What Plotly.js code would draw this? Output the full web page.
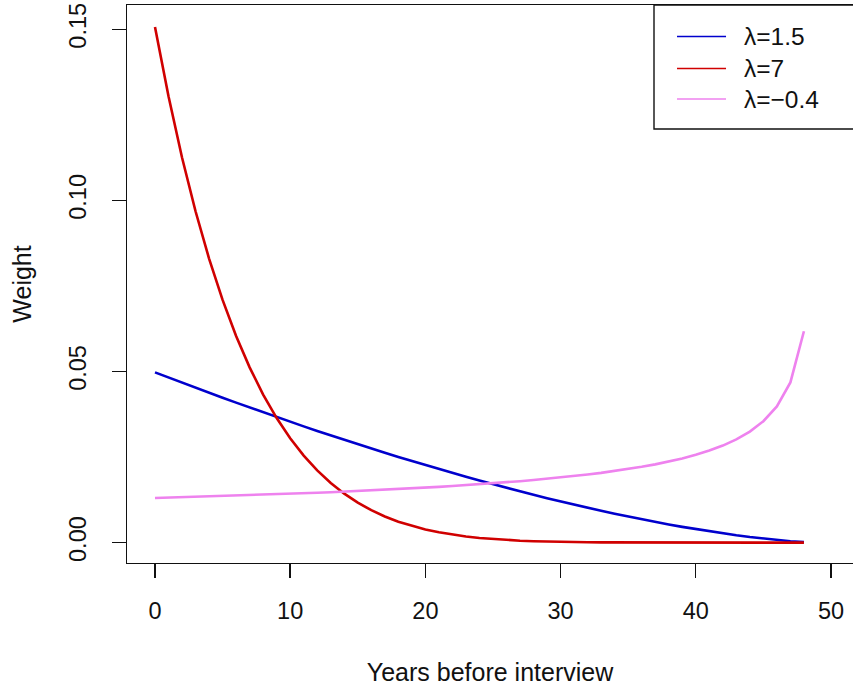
<!DOCTYPE html>
<html>
<head>
<meta charset="utf-8">
<script src="https://cdn.plot.ly/plotly-3.0.1.min.js"></script>
<style>html,body{margin:0;padding:0;background:#fff;}#chart{width:853px;height:689px;}</style>
</head>
<body>
<div id="chart"></div>
<script>
const years = [0,1,2,3,4,5,6,7,8,9,10,11,12,13,14,15,16,17,18,19,20,21,22,23,24,25,26,27,28,29,30,31,32,33,34,35,36,37,38,39,40,41,42,43,44,45,46,47,48];
const weightLambda15 = [0.04975,0.04823,0.04673,0.04525,0.04378,0.04233,0.04090,0.03948,0.03807,0.03669,0.03532,0.03397,0.03264,0.03133,0.03003,0.02875,0.02749,0.02625,0.02503,0.02383,0.02265,0.02149,0.02035,0.01923,0.01813,0.01705,0.01600,0.01497,0.01396,0.01297,0.01201,0.01108,0.01017,0.00928,0.00843,0.00760,0.00680,0.00603,0.00529,0.00459,0.00392,0.00328,0.00269,0.00213,0.00162,0.00116,0.00075,0.00041,0.00015];
const weightLambda7 = [0.15067,0.13042,0.11255,0.09682,0.08301,0.07093,0.06039,0.05122,0.04327,0.03640,0.03049,0.02542,0.02109,0.01741,0.01429,0.01167,0.00947,0.00763,0.00611,0.00486,0.00383,0.00300,0.00232,0.00179,0.00136,0.00102,0.00076,0.00055,0.00040,0.00028,0.00020,0.00014,0.00009,0.00006,0.00004,0.00002,0.00001,0.00001,0,0,0,0,0,0,0,0,0,0,0];
const weightLambdaNeg04 = [0.01302,0.01313,0.01324,0.01336,0.01347,0.01359,0.01372,0.01385,0.01398,0.01412,0.01427,0.01442,0.01457,0.01473,0.01490,0.01507,0.01525,0.01544,0.01564,0.01585,0.01606,0.01629,0.01653,0.01678,0.01704,0.01733,0.01762,0.01794,0.01828,0.01864,0.01902,0.01944,0.01989,0.02038,0.02091,0.02149,0.02214,0.02286,0.02367,0.02459,0.02565,0.02689,0.02836,0.03016,0.03245,0.03548,0.03980,0.04681,0.06177];
const seriesNames = ["λ=1.5", "λ=7", "λ=−0.4"];
const seriesColors = ["#0000CD", "#D00000", "#EE82EE"];
const xTicks = [0,10,20,30,40,50];
const yTicks = [0,0.05,0.10,0.15];
const yTickLabels = ["0.00","0.05","0.10","0.15"];

const FONT = "Liberation Sans, Arial, sans-serif";
const seriesY = [weightLambda15, weightLambda7, weightLambdaNeg04];
const traces = seriesY.map((ys, i) => ({
  x: years, y: ys, type: "scatter", mode: "lines", name: seriesNames[i],
  line: {color: seriesColors[i], width: 2.6}, showlegend: false, hoverinfo: "skip"
}));

// manual legend (R style): box, short line samples, labels
const shapes = [{type: "rect", xref: "paper", yref: "paper", x0: 0.7259, x1: 1.05, y0: 0.7778, y1: 1.0,
  line: {color: "#111", width: 1.4}, fillcolor: "rgba(0,0,0,0)"}];
const annotations = [];
const rowY = [0.9435, 0.8862, 0.8315];
seriesNames.forEach((n, i) => {
  shapes.push({type: "line", xref: "paper", yref: "paper", x0: 0.7576, x1: 0.8251, y0: rowY[i], y1: rowY[i],
    line: {color: seriesColors[i], width: 1.5}});
  annotations.push({xref: "paper", yref: "paper", x: 0.8471, y: rowY[i], xanchor: "left", yanchor: "middle",
    text: n, showarrow: false, font: {family: FONT, size: 24.5, color: "#111"}});
});

const layout = {
  width: 853, height: 689,
  margin: {l: 127, r: 0, t: 5, b: 126},
  paper_bgcolor: "#fff", plot_bgcolor: "#fff",
  font: {family: FONT, size: 23, color: "#111"},
  xaxis: {
    range: [-2.07, 51.63], tickvals: xTicks, ticktext: xTicks.map(String),
    tickfont: {family: FONT, size: 23.5, color: "#111"},
    showgrid: false, zeroline: false, showline: true, mirror: true, linecolor: "#111", linewidth: 1.4,
    ticks: "outside", ticklen: 14, tickwidth: 1.4, tickcolor: "#111", ticklabelstandoff: 12,
    title: {text: "Years before interview", font: {family: FONT, size: 25, color: "#111"}, standoff: 41},
    automargin: false
  },
  yaxis: {
    range: [-0.00596, 0.1571], tickvals: yTicks, ticktext: yTickLabels, tickangle: -90,
    tickfont: {family: FONT, size: 23.5, color: "#111"},
    showgrid: false, zeroline: false, showline: true, mirror: false, linecolor: "#111", linewidth: 1.4,
    ticks: "outside", ticklen: 14, tickwidth: 1.4, tickcolor: "#111", ticklabelstandoff: 16,
    title: {text: "Weight", font: {family: FONT, size: 25, color: "#111"}, standoff: 26},
    automargin: false
  },
  shapes: shapes,
  annotations: annotations,
  showlegend: false
};
Plotly.newPlot("chart", traces, layout, {staticPlot: true, displayModeBar: false});
</script>
</body>
</html>
